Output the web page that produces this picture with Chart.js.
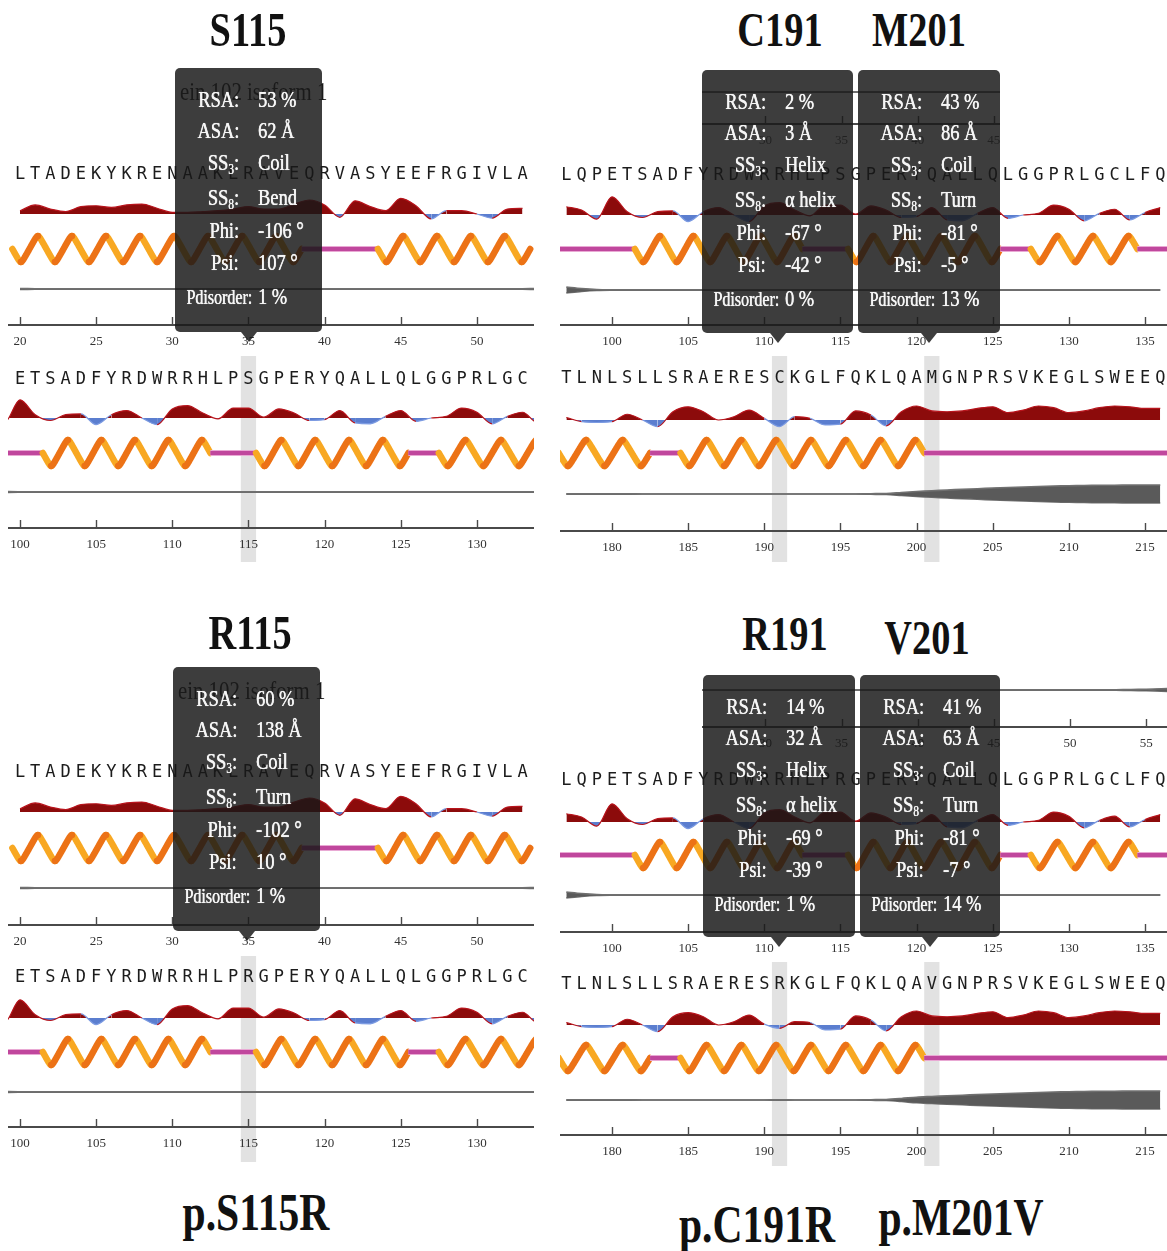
<!DOCTYPE html>
<html>
<head>
<meta charset="utf-8">
<script src="https://cdn.jsdelivr.net/npm/chart.js@4.4.1/dist/chart.umd.min.js"></script>
<style>
  html, body { margin: 0; padding: 0; background: #fff; }
  #page { position: relative; width: 1167px; height: 1251px; overflow: hidden; background: #fff; }
  #page canvas { position: absolute; z-index: 1; }
  .title { position: absolute; z-index: 6; font-family: 'Liberation Serif', 'Times New Roman', serif; font-weight: bold;
           color: #111; white-space: nowrap; line-height: 1; }
  .tip { position: absolute; z-index: 5; background: rgba(24, 24, 24, 0.84); border-radius: 5px; }
  .tip::after { content: ''; position: absolute; left: 50%; bottom: -10px; margin-left: -8px;
                border-left: 8px solid transparent; border-right: 8px solid transparent;
                border-top: 10px solid rgba(24, 24, 24, 0.84); }
  .tip .lab, .tip .val { position: absolute; line-height: 28px; height: 28px; font-family: 'Liberation Serif', serif;
                         font-size: 23px; color: #f6f6f6; white-space: nowrap;
                         text-shadow: 0 0 0.8px rgba(255, 255, 255, 0.9), 0.4px 0 0 rgba(255, 255, 255, 0.6); }
  .tip .lab { transform-origin: right center; transform: scaleX(0.8); }
  .tip .val { transform-origin: left center; transform: scaleX(0.8); }
  .tip .small { font-size: 20px; }
  .tip sub { font-size: 62%; vertical-align: -0.3em; line-height: 0; }
  .tip .ghost { position: absolute; left: 5px; top: 9px; font-family: 'Liberation Serif', serif; font-size: 26px;
                line-height: 30px; color: #1a1a1a; white-space: nowrap; transform-origin: left center;
                transform: scaleX(0.8); }
</style>
</head>
<body>
<div id="page"></div>
<script>
// ---- residue windows (first residue number of each sequence window) ----
const startN = 20;   // N-terminal window
const startM = 97;   // window around S115
const startC = 177;  // window around C191 / M201

// ---- amino-acid sequences ----
const seqN    = 'LTADEKYKRENAAKLRAVEQRVASYEEFRGIVLA';
const seqM    = 'LQPETSADFYRDWRRHLPSGPERYQALLQLGGPRLGCLFQ';
const seqMmut = 'LQPETSADFYRDWRRHLPRGPERYQALLQLGGPRLGCLFQ';
const seqC    = 'TLNLSLLSRAERESCKGLFQKLQAMGNPRSVKEGLSWEEQ';
const seqCmut = 'TLNLSLLSRAERESRKGLFQKLQAVGNPRSVKEGLSWEEQ';

// ---- secondary structure (H = helix, C = coil) ----
const ssN = 'HHHHHHHHHHHHHHHHHHHCCCCCHHHHHHHHHH';
const ssM = 'CCCCCHHHHHHHHHHHCCCHHHHHHHHHHCCHHHHHHHCC';
const ssC = 'HHHHHHCCHHHHHHHHHHHHHHHHCCCCCCCCCCCCCCCC';

// ---- relative surface exposure (above 0 exposed, below 0 buried) ----
const rsaN = [0.2, 0.55, 0.3, 0.15, 0.45, 0.5, 0.4, 0.55, 0.6, 0.35, 0.1, 0.1, 0.15, 0.2, 0.3, 0.45, 0.3,
              0.3, 0.6, 0.85, 0.55, -0.2, 0.8, 0.45, 0.2, 0.95, 0.5, -0.3, 0.2, 0.2, 0.0, -0.25, 0.3, 0.35];
const rsaM = [0.5, 0.3, -0.25, 1.1, 0.2, -0.15, 0.2, 0.25, -0.4, 0.2, 0.45, 0.0, -0.4, 0.55, 0.75, 0.3, -0.05,
              0.6, 0.6, 0.05, 0.55, 0.3, -0.15, -0.1, 0.45, -0.3, -0.35, 0.1, 0.45, -0.2, 0.0, 0.1, 0.6, 0.35,
              -0.35, 0.1, 0.35, -0.3, 0.15, 0.45];
const rsaC = [0.15, -0.1, -0.15, -0.1, 0.35, 0.0, -0.4, 0.5, 0.8, 0.5, 0.0, 0.2, 0.6, 0.1, -0.4, 0.2, 0.1,
              -0.3, -0.25, 0.55, 0.3, -0.35, 0.5, 0.85, 0.55, 0.5, 0.55, 0.7, 0.8, 0.45, 0.6, 0.85, 0.75, 0.45,
              0.55, 0.75, 0.85, 0.8, 0.7, 0.7];
const rsaCmut = [0.15, -0.1, -0.15, -0.1, 0.35, 0.0, -0.4, 0.5, 0.75, 0.5, 0.0, 0.2, 0.6, 0.05, -0.2, 0.2, 0.15,
                 -0.3, -0.25, 0.55, 0.3, -0.35, 0.5, 0.85, 0.55, 0.5, 0.55, 0.7, 0.8, 0.45, 0.6, 0.85, 0.75, 0.45,
                 0.55, 0.75, 0.85, 0.8, 0.7, 0.7];

// ---- disorder probability, % ----
const disN = [2, 1, 1, 1, 1, 1, 1, 1, 1, 1, 1, 1, 1, 1, 1, 1, 1, 1, 1, 1, 1, 1, 1, 1, 1, 1, 1, 1, 1, 1, 1, 1, 1, 1,
              2, 3, 5, 7];
const disM = [12, 6, 2, 1, 1, 1, 1, 1, 1, 1, 1, 1, 1, 1, 1, 1, 1, 1, 1, 1, 1, 1, 1, 1, 1, 1, 1, 1, 1, 1, 1, 1, 1,
              1, 1, 1, 1, 1, 1, 1];
const disC = [1, 1, 1, 1, 1, 0, 0, 0, 0, 0, 0, 0, 0, 0, 0, 0, 0, 0, 0, 0, 1, 2, 6, 10, 13, 16, 19, 21, 24, 26, 28,
              30, 32, 33, 34, 35, 35, 36, 36, 36];
const disCmut = [1, 1, 1, 1, 1, 0, 0, 0, 0, 0, 0, 0, 0, 0, 1, 0, 0, 0, 0, 0, 1, 2, 6, 11, 14, 17, 19, 22, 24, 26,
                 28, 30, 32, 33, 34, 35, 35, 36, 36, 36];

// ---- residue summaries shown in the hover cards ----
const tipLabels = ['RSA:', 'ASA:', 'SS<sub>3</sub>:', 'SS<sub>8</sub>:', 'Phi:', 'Psi:', 'Pdisorder:'];
const tipS115 = ['53 %', '62 Å', 'Coil', 'Bend', '-106 °', '107 °', '1 %'];
const tipR115 = ['60 %', '138 Å', 'Coil', 'Turn', '-102 °', '10 °', '1 %'];
const tipC191 = ['2 %', '3 Å', 'Helix', 'α helix', '-67 °', '-42 °', '0 %'];
const tipM201 = ['43 %', '86 Å', 'Coil', 'Turn', '-81 °', '-5 °', '13 %'];
const tipR191 = ['14 %', '32 Å', 'Helix', 'α helix', '-69 °', '-39 °', '1 %'];
const tipV201 = ['41 %', '63 Å', 'Coil', 'Turn', '-81 °', '-7 °', '14 %'];

// ---------------------------------------------------------------------------
const PPR = 15.23;                      // pixels per residue
const page = document.getElementById('page');

function points(values, start, sign = 1) {
  return values.map((v, i) => ({ x: start + i, y: sign * v }));
}

// helix ribbon: a rounded zigzag, back strokes darker than front strokes
function drawHelix(ctx, xa, xb, yc) {
  const turn = 2.3 * PPR;
  const n = Math.max(2, Math.round((xb - xa) / (turn / 2)));
  const hw = (xb - xa) / n;
  const amp = 13;
  const yAt = px => yc + amp * (2 / Math.PI) * Math.asin(0.96 * Math.sin(Math.PI * (px - xa) / hw)) / 0.82;
  const cuts = [xa];
  for (let k = 0; ; k++) {
    const px = xa + hw * (0.5 + k);
    if (px >= xb) break;
    cuts.push(px);
  }
  cuts.push(xb);
  ctx.lineWidth = 6.5;
  ctx.lineCap = 'round';
  ctx.lineJoin = 'round';
  for (const pass of [0, 1]) {
    for (let s = 0; s < cuts.length - 1; s++) {
      const a = cuts[s], b = cuts[s + 1];
      const mid = (a + b) / 2;
      const goingDown = Math.cos(Math.PI * (mid - xa) / hw) > 0;
      if ((pass === 0) !== goingDown) continue;
      ctx.strokeStyle = goingDown ? '#f8a822' : '#ec7216';
      ctx.beginPath();
      ctx.moveTo(a, yAt(a));
      for (let px = a + 0.5; px < b; px += 0.5) ctx.lineTo(px, yAt(px));
      ctx.lineTo(b, yAt(b));
      ctx.stroke();
    }
  }
}

function drawCoil(ctx, xa, xb, yc) {
  ctx.lineCap = 'butt';
  ctx.strokeStyle = '#e9a9d4';
  ctx.lineWidth = 6;
  ctx.beginPath(); ctx.moveTo(xa, yc); ctx.lineTo(xb, yc); ctx.stroke();
  ctx.strokeStyle = '#c0479d';
  ctx.lineWidth = 4;
  ctx.beginPath(); ctx.moveTo(xa, yc); ctx.lineTo(xb, yc); ctx.stroke();
}

function addBlock(b) {
  const cv = document.createElement('canvas');
  const W = b.x1 - b.x0, H = b.y1 - b.y0;
  cv.width = W; cv.height = H;
  cv.style.left = b.x0 + 'px'; cv.style.top = b.y0 + 'px';
  cv.style.width = W + 'px'; cv.style.height = H + 'px';
  page.appendChild(cv);

  const xmin = b.anchorRes - (b.anchorX - b.x0) / PPR;
  const xmax = xmin + W / PPR;
  const chartTop = (b.seq ? b.yL + 13 : b.yDis - 12) - b.y0;
  const axisY = b.yAx - b.y0;
  const areaH = axisY - chartTop;
  const track = (yPage, pxPerUnit) => {
    const max = (yPage - b.y0 - chartTop) / pxPerUnit;
    return { min: max - areaH / pxPerUnit, max };
  };
  const seqSize = 17, tickSize = 13;

  const scales = {
    x: {
      type: 'linear', position: 'bottom', min: xmin, max: xmax,
      grid: { display: false, drawTicks: false },
      border: { display: true, color: '#4a4a4a', width: 2 },
      ticks: { stepSize: 5, includeBounds: false, autoSkip: false, maxRotation: 0, color: b.faint ? '#555' : '#333',
               font: { family: 'Liberation Serif', size: tickSize }, padding: 16.5 - tickSize * 0.6 },
      afterFit: s => { s.height = H - axisY; s.paddingLeft = 0; s.paddingRight = 0; }
    },
    dis: { type: 'linear', axis: 'y', display: false, ...track(b.yDis, 0.25) }
  };
  const datasets = [
    { type: 'line', yAxisID: 'dis', data: points(b.dis, b.disStart, 1), borderColor: '#707070', borderWidth: 1.7,
      backgroundColor: '#5a5a5a', fill: '+1', pointRadius: 0, tension: 0.3 },
    { type: 'line', yAxisID: 'dis', data: points(b.dis, b.disStart, -1), borderColor: '#707070', borderWidth: 1.7,
      fill: false, pointRadius: 0, tension: 0.3 }
  ];

  if (b.seq) {
    const letters = b.seq;
    scales.seq = {
      type: 'linear', axis: 'x', position: 'top', min: xmin, max: xmax,
      grid: { display: false, drawTicks: false },
      border: { display: false },
      ticks: { stepSize: 1, includeBounds: false, autoSkip: false, maxRotation: 0, maxTicksLimit: 1000,
               color: '#1c1c1c', font: { family: 'DejaVu Sans Mono', size: seqSize },
               padding: 13 - seqSize * 0.6,
               callback: v => letters[Math.round(v) - b.seqStart] || '' },
      afterFit: s => { s.height = chartTop; s.paddingLeft = 0; s.paddingRight = 0; }
    };
    scales.rsa = { type: 'linear', axis: 'y', display: false, ...track(b.yRsa, 16.5) };
    scales.ss = { type: 'linear', axis: 'y', display: false, ...track(b.ySs, 1) };
    datasets.unshift({
      type: 'line', yAxisID: 'rsa', data: points(b.rsa, b.seqStart), borderWidth: 1.2,
      segment: { borderColor: c => (c.p0.parsed.y + c.p1.parsed.y >= 0 ? '#b8141c' : '#7c9be2') },
      fill: { target: 'origin', above: '#8c0b0b', below: '#5b7ecf' },
      pointRadius: 0, cubicInterpolationMode: 'monotone'
    });
  }

  const trackPlugin = {
    id: 'tracks',
    beforeDraw(chart) {
      if (!b.marks) return;
      const x = chart.scales.x, ctx = chart.ctx;
      ctx.save();
      ctx.fillStyle = '#e2e2e2';
      b.marks.forEach(r => {
        const a = x.getPixelForValue(r - 0.5), c = x.getPixelForValue(r + 0.5);
        ctx.fillRect(a, 0, c - a, chart.height);
      });
      ctx.restore();
    },
    afterDatasetsDraw(chart) {
      if (!b.ss) return;
      const x = chart.scales.x, ctx = chart.ctx, area = chart.chartArea;
      const yc = chart.scales.ss.getPixelForValue(0);
      ctx.save();
      ctx.beginPath();
      ctx.rect(area.left, area.top, area.right - area.left, area.bottom - area.top);
      ctx.clip();
      let i = 0;
      while (i < b.ss.length) {
        let j = i;
        while (j + 1 < b.ss.length && b.ss[j + 1] === b.ss[i]) j++;
        const xa = x.getPixelForValue(b.seqStart + i - 0.5);
        const xb = x.getPixelForValue(b.seqStart + j + 0.5);
        if (b.ss[i] === 'H') drawHelix(ctx, xa, xb, yc); else drawCoil(ctx, xa, xb, yc);
        i = j + 1;
      }
      ctx.restore();
    },
    afterDraw(chart) {
      const x = chart.scales.x, ctx = chart.ctx, y = x.top;
      ctx.save();
      ctx.strokeStyle = '#4a4a4a';
      ctx.lineWidth = 1.4;
      ctx.beginPath();
      x.ticks.forEach(t => {
        const px = Math.round(x.getPixelForValue(t.value)) + 0.5;
        ctx.moveTo(px, y - 8); ctx.lineTo(px, y + 1);
      });
      ctx.stroke();
      ctx.restore();
    }
  };

  new Chart(cv, {
    type: 'line',
    data: { datasets },
    options: {
      responsive: false, animation: false, devicePixelRatio: 1, events: [],
      layout: { padding: b.seq ? 0 : { top: chartTop }, autoPadding: false },
      plugins: { legend: { display: false }, tooltip: { enabled: false } },
      scales
    },
    plugins: [trackPlugin]
  });
}

// ---- track blocks ----
const left = { x0: 8, x1: 534 }, right = { x0: 560, x1: 1167 };
const blockN = { seq: seqN, seqStart: startN, rsa: rsaN, ss: ssN, dis: disN, disStart: startN, anchorRes: 20, anchorX: 20 };

addBlock({ ...left, ...blockN, y0: 151, y1: 356, yL: 175, yRsa: 214, ySs: 249, yDis: 289, yAx: 325 });
addBlock({ ...left, seq: seqM, seqStart: startM, rsa: rsaM, ss: ssM, dis: disM, disStart: startM,
           anchorRes: 100, anchorX: 20, marks: [115],
           y0: 356, y1: 562, yL: 380, yRsa: 418, ySs: 453, yDis: 492, yAx: 528 });
addBlock({ ...right, seq: seqM, seqStart: startM, rsa: rsaM, ss: ssM, dis: disM, disStart: startM,
           anchorRes: 100, anchorX: 612,
           y0: 152, y1: 356, yL: 176, yRsa: 215, ySs: 249, yDis: 290, yAx: 325 });
addBlock({ ...right, seq: seqC, seqStart: startC, rsa: rsaC, ss: ssC, dis: disC, disStart: startC,
           anchorRes: 180, anchorX: 612, marks: [191, 201],
           y0: 356, y1: 562, yL: 379, yRsa: 420, ySs: 453, yDis: 494, yAx: 531 });

addBlock({ ...left, ...blockN, y0: 750, y1: 955, yL: 773, yRsa: 812, ySs: 848, yDis: 888, yAx: 925 });
addBlock({ ...left, seq: seqMmut, seqStart: startM, rsa: rsaM, ss: ssM, dis: disM, disStart: startM,
           anchorRes: 100, anchorX: 20, marks: [115],
           y0: 956, y1: 1162, yL: 978, yRsa: 1018, ySs: 1052, yDis: 1092, yAx: 1127 });
addBlock({ ...right, seq: seqMmut, seqStart: startM, rsa: rsaM, ss: ssM, dis: disM, disStart: startM,
           anchorRes: 100, anchorX: 612,
           y0: 758, y1: 960, yL: 781, yRsa: 822, ySs: 855, yDis: 895, yAx: 932 });
addBlock({ ...right, seq: seqCmut, seqStart: startC, rsa: rsaCmut, ss: ssC, dis: disCmut, disStart: startC,
           anchorRes: 180, anchorX: 612, marks: [191, 201],
           y0: 962, y1: 1166, yL: 985, yRsa: 1025, ySs: 1058, yDis: 1100, yAx: 1135 });

// disorder / ruler strips lying underneath the hover cards on the right
addBlock({ x0: 702, x1: 1000, dis: disN, disStart: startN, anchorRes: 50, anchorX: 1070, faint: true,
           y0: 72, y1: 150, yDis: 92, yAx: 124 });
addBlock({ x0: 702, x1: 1167, dis: disN, disStart: startN, anchorRes: 50, anchorX: 1070,
           y0: 668, y1: 752, yDis: 690, yAx: 727 });

// ---- hover cards ----
const rowY = [32, 63, 95, 130, 163, 195, 229];
function addTip(box, values, ghost) {
  const d = document.createElement('div');
  d.className = 'tip';
  Object.assign(d.style, { left: box.x + 'px', top: box.y + 'px', width: box.w + 'px', height: box.h + 'px' });
  if (ghost) {
    const g = document.createElement('div');
    g.className = 'ghost';
    g.textContent = ghost;
    d.appendChild(g);
  }
  rowY.forEach((ry, i) => {
    const small = i === 6;
    const l = document.createElement('span');
    l.className = small ? 'lab small' : 'lab';
    l.innerHTML = tipLabels[i];
    l.style.right = (box.w - (small ? 77 : 64)) + 'px';
    l.style.top = (ry - 14) + 'px';
    const v = document.createElement('span');
    v.className = 'val';
    v.textContent = values[i];
    v.style.left = '83px';
    v.style.top = (ry - 14) + 'px';
    d.append(l, v);
  });
  page.appendChild(d);
}
addTip({ x: 175, y: 68, w: 147, h: 264 }, tipS115, 'ein 102 isoform 1');
addTip({ x: 702, y: 70, w: 151, h: 263 }, tipC191);
addTip({ x: 858, y: 70, w: 142, h: 263 }, tipM201);
addTip({ x: 173, y: 667, w: 147, h: 264 }, tipR115, 'ein 102 isoform 1');
addTip({ x: 703, y: 675, w: 152, h: 262 }, tipR191);
addTip({ x: 860, y: 675, w: 140, h: 262 }, tipV201);

// ---- residue titles and mutation names ----
function addText(txt, cx, cy, size) {
  const d = document.createElement('div');
  d.className = 'title';
  d.textContent = txt;
  d.style.fontSize = size + 'px';
  d.style.left = cx + 'px';
  d.style.top = (cy - 0.507 * size) + 'px';
  d.style.transform = 'translateX(-50%) scaleX(0.8)';
  page.appendChild(d);
}
addText('S115', 248, 30, 48);
addText('C191', 780, 30, 48);
addText('M201', 919, 30, 48);
addText('R115', 250, 633, 48);
addText('R191', 785, 634, 48);
addText('V201', 927, 638, 48);
addText('p.S115R', 256, 1213, 52);
addText('p.C191R', 757, 1225, 52);
addText('p.M201V', 961, 1218, 52);
</script>
</body>
</html>
